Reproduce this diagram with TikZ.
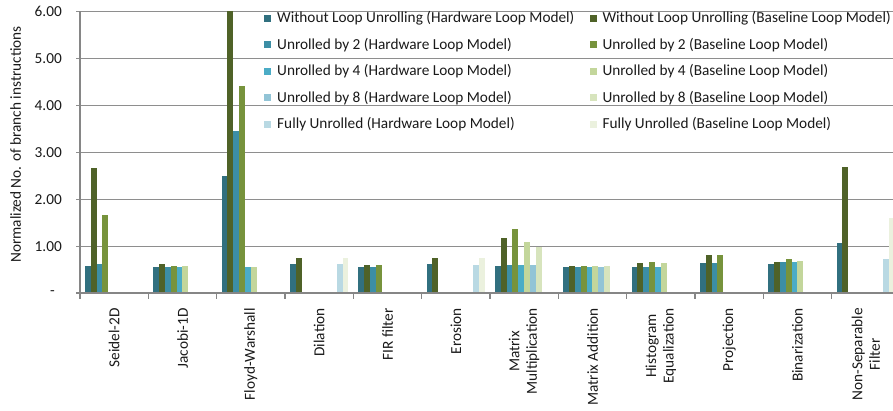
\documentclass[tikz,border=0pt]{standalone}
\usepackage{fontspec}
\setmainfont{Carlito}

% bar colours, one per series slot inside a category
\definecolor{s0}{HTML}{31707F}
\definecolor{s1}{HTML}{4F6228}
\definecolor{s2}{HTML}{3C8EA5}
\definecolor{s3}{HTML}{77933C}
\definecolor{s4}{HTML}{4BACC6}
\definecolor{s5}{HTML}{C3D69B}
\definecolor{s6}{HTML}{92C4D6}
\definecolor{s7}{HTML}{D7E4BD}
\definecolor{s8}{HTML}{B9D9E3}
\definecolor{s9}{HTML}{EBF1DE}
\definecolor{axisgray}{HTML}{868686}
\definecolor{gridgray}{HTML}{8E8E8E}
\definecolor{txt}{HTML}{1A1A1A}

% geometry (one unit = one pixel, y downwards)
\def\plotleft{80}
\def\zeroy{293.3}
\def\unity{47}
\def\catw{68.333}
\def\barw{5.85}
\def\gapoff{4.9}

\newcommand\bargroup[2]{%
  \foreach \v [count=\k from 0] in {#2} {%
    \ifdim\v pt>0pt
      \pgfmathsetmacro\bx{\plotleft+\catw*#1+\gapoff+\barw*\k}
      \pgfmathsetmacro\by{\zeroy-\unity*\v}
      \fill[s\k] (\bx,\by) rectangle (\bx+\barw,\zeroy);
    \fi
  }%
}

\tikzset{
  txtstyle/.style={font=\fontsize{15.3}{17.5}\selectfont, text=txt, inner sep=0pt},
  ticklabel/.style={txtstyle, anchor=east},
  catlabel/.style={txtstyle, rotate=90, anchor=east, align=center},
  legtext/.style={txtstyle, anchor=west},
  legkey/.style={minimum size=7.3pt, inner sep=0pt, draw=none},
  gridline/.style={draw=gridgray, line width=1pt},
}

\begin{document}
\begin{tikzpicture}[x=1pt, y=-1pt]
\useasboundingbox (0,0) rectangle (893,410);
\begin{scope}
\clip (0,0) rectangle (893,410);

% horizontal grid lines with small ticks left of the axis
\foreach \g in {1,...,6} {
  \draw[gridline] (76,{\zeroy-\unity*\g}) -- (893,{\zeroy-\unity*\g});
}

% bars: slots alternate hardware / baseline loop model
\bargroup{0}{0.587,2.66,0.62,1.67}
\bargroup{1}{0.57,0.62,0.57,0.59,0.57,0.58}
\bargroup{2}{2.50,6.00,3.45,4.42,0.57,0.57}
\bargroup{3}{0.62,0.745,0,0,0,0,0,0,0.62,0.745}
\bargroup{4}{0.57,0.60,0.57,0.60}
\bargroup{5}{0.62,0.745,0,0,0,0,0,0,0.60,0.745}
\bargroup{6}{0.58,1.17,0.60,1.36,0.60,1.10,0.60,0.98}
\bargroup{7}{0.57,0.585,0.57,0.585,0.57,0.585,0.57,0.585}
\bargroup{8}{0.57,0.65,0.57,0.67,0.57,0.655}
\bargroup{9}{0.65,0.815,0.65,0.815}
\bargroup{10}{0.62,0.665,0.665,0.73,0.665,0.69}
\bargroup{11}{1.06,2.68,0,0,0,0,0,0,0.73,1.60}

% axes
\coordinate (ytop) at (\plotleft,11.3);
\coordinate (origin) at (\plotleft,\zeroy);
\coordinate (xend) at (893,\zeroy);
\draw[axisgray, line width=1.3pt] (ytop) -- (origin);
\draw[axisgray, line width=2pt] (76,\zeroy) -- (xend);
\foreach \c in {0,...,12} {
  \draw[axisgray, line width=1.3pt] ({\plotleft+\catw*\c},\zeroy) -- ++(0,5.5);
}
\end{scope}

% value axis labels
\foreach \g/\lab in {1/1.00,2/2.00,3/3.00,4/4.00,5/5.00,6/6.00} {
  \node[ticklabel] (yl\g) at (62,{\zeroy-\unity*\g}) {\lab};
}
\node[ticklabel] (yl0) at (55,\zeroy) {-};
\node[txtstyle, rotate=90] (ytitle) at (15.5,144.5) {Normalized No. of branch instructions};

% category labels
\foreach \lab [count=\c from 0] in {Seidel-2D, Jacobi-1D, Floyd-Warshall, Dilation, FIR filter, Erosion,
    Matrix\\Multiplication, Matrix Addition, Histogram\\Equalization, Projection, Binarization, Non-Separable\\Filter} {
  \node[catlabel] (cat\c) at ({\plotleft+\catw*(\c+0.5)},308) {\lab};
}

% legend
\foreach \lab [count=\r from 0] in {Without Loop Unrolling, Unrolled by 2, Unrolled by 4, Unrolled by 8, Fully Unrolled} {
  \pgfmathtruncatemacro\hw{2*\r}
  \pgfmathtruncatemacro\bl{2*\r+1}
  \node[legkey, fill=s\hw] (kh\r) at (267.7,{18.3+26.5*\r}) {};
  \node[legtext] (th\r) at (277,{18.3+26.5*\r}) {\lab{} (Hardware Loop Model)};
  \node[legkey, fill=s\bl] (kb\r) at (593.7,{18.3+26.5*\r}) {};
  \node[legtext] (tb\r) at (602.3,{18.3+26.5*\r}) {\lab{} (Baseline Loop Model)};
}
\end{tikzpicture}
\end{document}
